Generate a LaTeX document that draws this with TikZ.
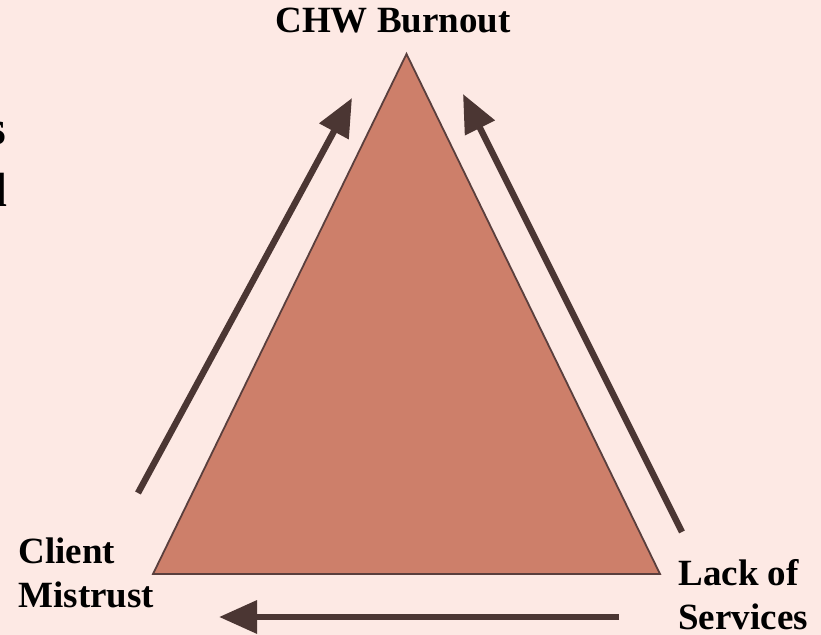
\documentclass[tikz,border=0pt]{standalone}
\usepackage{fontspec}
\setmainfont{Liberation Serif}
\usepackage{xcolor}
\usepackage{tikz}
\usetikzlibrary{arrows.meta}
\definecolor{bg}{HTML}{FDE9E4}
\definecolor{clay}{HTML}{CD7F6A}
\definecolor{edge}{HTML}{5A3F3D}
\definecolor{brown}{HTML}{4B3633}
\tikzset{
  tri/.style={draw=edge, fill=clay, line width=0.9pt, line join=miter},
  flow/.style={draw=brown, line width=3.2pt,
    -{Triangle[length=19pt,width=16pt]}},
  lab/.style={text=black, font=\fontsize{18.5}{22}\selectfont\bfseries,
    inner sep=0pt, align=left},
  cut/.style={text=black, font=\fontsize{24}{28}\selectfont\bfseries,
    inner sep=0pt}
}
\begin{document}
\begin{tikzpicture}[x=0.5pt,y=-0.5pt]
  \fill[bg] (0,0) rectangle (821,635);
  \useasboundingbox (0,0) rectangle (821,635);
  % corners of the triangle
  \coordinate (top) at (406.5,54);
  \coordinate (left) at (153,574);
  \coordinate (right) at (660,574);
  \draw[tri] (top)--(left)--(right)--cycle;
  % arrow ends
  \coordinate (ltail) at (138,493);
  \coordinate (lhead) at (352,98);
  \coordinate (rtail) at (682,532);
  \coordinate (rhead) at (463,94);
  \coordinate (btail) at (619,617);
  \coordinate (bhead) at (219,617);
  \draw[flow] (ltail)--(lhead);
  \draw[flow] (rtail)--(rhead);
  \draw[flow] (btail)--(bhead);
  % labels (base = last line)
  \node[lab,anchor=base west] (burnout) at (275,33) {CHW Burnout};
  \node[lab,anchor=base west] (mistrust) at (18,608) {Client\\Mistrust};
  \node[lab,anchor=base west] (services) at (678,630) {Lack of\\Services};
  % text cut off at the left edge
  \node[cut,anchor=base east] (cuts) at (7,145) {s};
  \node[cut,anchor=base east] (cutd) at (8,207) {d};
\end{tikzpicture}
\end{document}
